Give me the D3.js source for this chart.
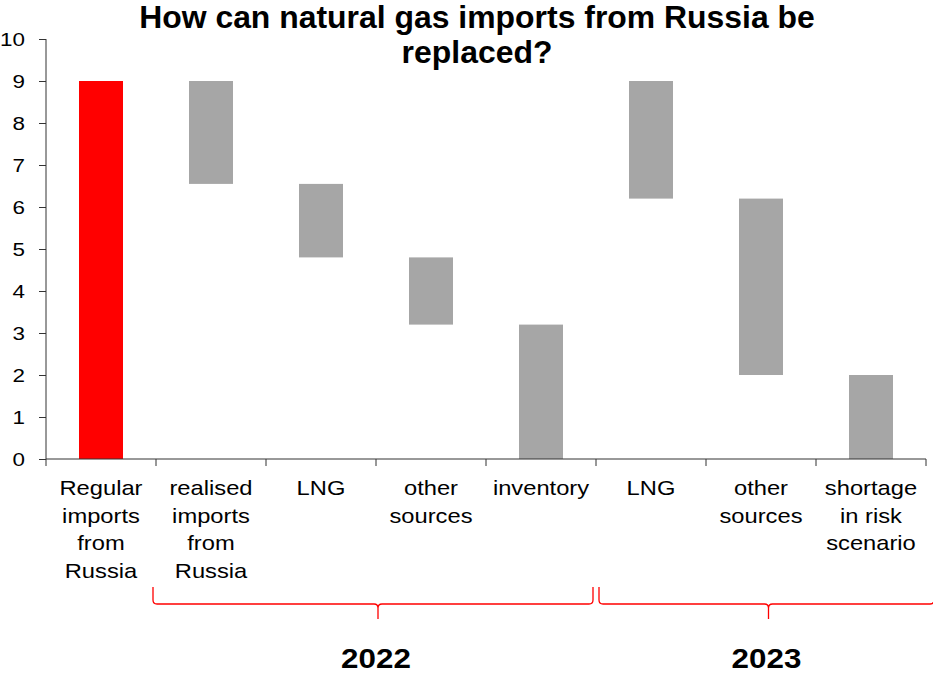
<!DOCTYPE html>
<html lang="en">
<head>
  <meta charset="UTF-8">
  <style>
    body { margin: 0; padding: 0; background: #fff; }
    svg text { font-family: "Liberation Sans", Arial, sans-serif; fill: #000; }
  </style>
  <script src="https://d3js.org/d3.v7.min.js"></script>
</head>
<body>
  <svg id="chart" width="933" height="673"></svg>

  <script>
    // category labels, one entry per line
    const categoryLines = [
      ["Regular", "imports", "from", "Russia"],
      ["realised", "imports", "from", "Russia"],
      ["LNG"],
      ["other", "sources"],
      ["inventory"],
      ["LNG"],
      ["other", "sources"],
      ["shortage", "in risk", "scenario"]
    ];
    // floating bars: bottom and top of each bar
    const barLow  = [0, 6.55, 4.8, 3.2, 0, 6.2, 2, 0];
    const barHigh = [9, 9, 6.55, 4.8, 3.2, 9, 6.2, 2];
    const barColors = ["#ff0000", "#a6a6a6", "#a6a6a6", "#a6a6a6", "#a6a6a6", "#a6a6a6", "#a6a6a6", "#a6a6a6"];
    // year groups (first and last category index)
    const years = ["2022", "2023"];
    const yearSpans = [[1, 4], [5, 7]];
    const yTicks = [0, 1, 2, 3, 4, 5, 6, 7, 8, 9, 10];

    const svg = d3.select("#chart");

    const x = d3.scaleBand().domain(d3.range(categoryLines.length)).range([46, 926]);
    const y = d3.scaleLinear().domain([0, 10]).range([459, 39]);
    const barW = x.bandwidth() * 0.4;

    // widen glyphs a little around the text anchor
    function widen(sel, cx, s) {
      sel.attr("transform", `translate(${cx},0) scale(${s},1) translate(${-cx},0)`);
    }

    // title
    svg.append("text")
      .attr("x", 477).attr("y", 28)
      .attr("text-anchor", "middle")
      .style("font-size", "31px").style("font-weight", "bold")
      .call(widen, 477, 1.03)
      .selectAll("tspan")
      .data(["How can natural gas imports from Russia be", "replaced?"])
      .join("tspan")
      .attr("x", 477)
      .attr("dy", (d, i) => i === 0 ? 0 : 35)
      .text(d => d);

    // bars
    svg.append("g").selectAll("rect")
      .data(barHigh)
      .join("rect")
      .attr("x", (d, i) => x(i) + (x.bandwidth() - barW) / 2)
      .attr("width", barW)
      .attr("y", d => y(d))
      .attr("height", (d, i) => y(barLow[i]) - y(d))
      .attr("fill", (d, i) => barColors[i]);

    // y axis
    const yAxis = svg.append("g")
      .attr("transform", "translate(46,0)")
      .call(d3.axisLeft(y).tickValues(yTicks).tickSize(7).tickPadding(14));
    yAxis.selectAll("text").style("font-size", "19px").call(widen, -21, 1.18);
    yAxis.selectAll("line, path").attr("stroke", "#333");
    yAxis.select(".domain").attr("d", `M0,${y(0)}V${y(10)}`);

    // x axis: baseline plus ticks between categories
    const xAxis = svg.append("g");
    xAxis.append("line")
      .attr("x1", x.range()[0]).attr("x2", x.range()[1])
      .attr("y1", y(0)).attr("y2", y(0))
      .attr("stroke", "#333");
    xAxis.selectAll(".tick")
      .data(d3.range(categoryLines.length + 1))
      .join("line")
      .attr("x1", i => x.range()[0] + i * x.step())
      .attr("x2", i => x.range()[0] + i * x.step())
      .attr("y1", y(0)).attr("y2", y(0) + 7)
      .attr("stroke", "#333");

    xAxis.selectAll(".label")
      .data(categoryLines)
      .join("text")
      .attr("text-anchor", "middle")
      .style("font-size", "21px")
      .each(function(lines, i) {
        const cx = x(i) + x.bandwidth() / 2;
        d3.select(this).call(widen, cx, 1.13)
          .selectAll("tspan")
          .data(lines)
          .join("tspan")
          .attr("x", cx)
          .attr("y", (d, j) => 495 + j * 27.6)
          .text(d => d);
      });

    // curly braces under each year group
    function brace(x0, x1, m, top, mid, tip) {
      return `M${x0},${top} L${x0},${mid - 4} Q${x0},${mid} ${x0 + 4},${mid}` +
             ` L${m - 4},${mid} Q${m},${mid} ${m},${mid + 4} L${m},${tip}` +
             ` M${m},${mid + 4} Q${m},${mid} ${m + 4},${mid}` +
             ` L${x1 - 4},${mid} Q${x1},${mid} ${x1},${mid - 4} L${x1},${top}`;
    }

    const braces = svg.append("g");
    const tipShift = [5, 2];
    yearSpans.forEach((s, k) => {
      const x0 = x(s[0]) - 3 + (k === 1 ? 6 : 0);
      const x1 = x(s[1]) + x.bandwidth() + (k === 1 ? 8 : -3);
      const cx = (x0 + x1) / 2 + tipShift[k];
      braces.append("path")
        .attr("d", brace(x0, x1, cx, 587, 604, 619))
        .attr("fill", "none")
        .attr("stroke", "#ff0000")
        .attr("stroke-width", 1.3);
      braces.append("text")
        .attr("x", cx - 2)
        .attr("y", 668)
        .attr("text-anchor", "middle")
        .style("font-size", "28px").style("font-weight", "bold")
        .call(widen, cx - 2, 1.12)
        .text(years[k]);
    });
  </script>
</body>
</html>
